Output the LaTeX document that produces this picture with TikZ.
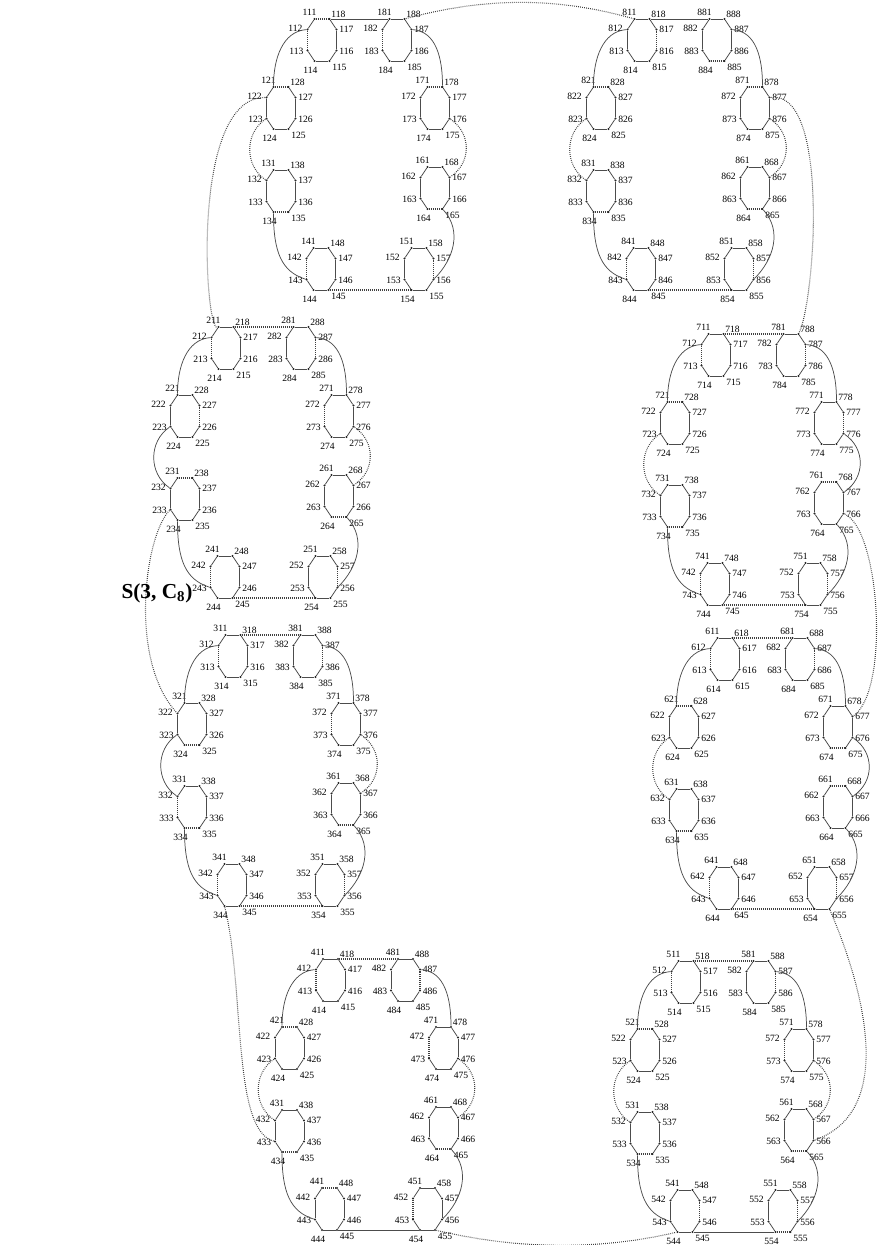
\documentclass[tikz,border=0pt]{standalone}
\usepackage{fontspec}
\setmainfont{Liberation Serif}
\tikzset{
  vtx/.style={circle,fill=black!85,inner sep=0pt,minimum size=1.7pt},
  lab/.style={inner sep=0pt,font=\fontsize{7.2}{7.2}\selectfont,text=black},
  Es/.style={draw=black!70,line width=0.55pt},
  Ed/.style={draw=black!75,line width=0.8pt,dash pattern=on 0.6pt off 0.9pt},
  ttl/.style={inner sep=0pt,font=\bfseries\fontsize{16}{16}\selectfont},
}
% vertices and labels of one cluster: #1 cluster digit, #2 #3 offset (px)
\newcommand\mkcluster[3]{%
  \foreach \o/\tx/\ty in {1/322/40,8/397/40,2/281/108,7/435/108,3/281/191,6/435/188,4/321/269,5/419/269}{%
    \foreach \k/\vx/\vy/\lx/\ly in {1/-7.5/-21/-5/-7,8/7.5/-21/9/-5,2/-14.5/-10.5/-12/-1,7/14.5/-10.5/10/0,3/-14.5/10.5/-11/1,6/14.5/10.5/10/1,4/-7.5/21/-4/9,5/7.5/21/10/6}{%
      \node[vtx] (v#1\o\k) at ({#2+\tx+\vx},{#3+\ty+\vy}) {};
      \node[lab] (l#1\o\k) at ({#2+\tx+\vx+\lx},{#3+\ty+\vy+\ly}) {#1\o\k};
    }}}
% edges of one octagon: #1 cluster, #2 octagon, #3 styles of 1-8,1-2,2-3,...,7-8
\newcommand\octedges[3]{%
  \foreach \s [count=\i] in {#3}{%
    \ifnum\i=1 \def\vA{1}\def\vB{8}\else\pgfmathtruncatemacro\vA{\i-1}\edef\vB{\i}\fi
    \draw[E\s] (v#1#2\vA) -- (v#1#2\vB);
  }}
% edges between octagons of one cluster
\newcommand\clusteredges[9]{%
  \draw[E#2] (v#118) -- (v#181);
  \draw[E#3] (v#112) .. controls +(-25,2) and +(0,-28) .. (v#121);
  \draw[E#4] (v#187) .. controls +(25,2) and +(0,-28) .. (v#178);
  \draw[E#5] (v#123) .. controls +(-22,15) and +(-22,-15) .. (v#132);
  \draw[E#6] (v#176) .. controls +(22,15) and +(22,-15) .. (v#167);
  \draw[E#7] (v#134) .. controls +(0,40) and +(-25,-8) .. (v#143);
  \draw[E#8] (v#165) .. controls +(20,22) and +(20,-20) .. (v#156);
  \draw[E#9] (v#145) -- (v#154);
}
\begin{document}
\begin{tikzpicture}[x=0.75pt,y=-0.75pt]
\fill[white] (0,0) rectangle (888,1245);
\useasboundingbox (0,0) rectangle (888,1245);

\mkcluster{1}{0}{0}
\mkcluster{2}{-96}{308}
\mkcluster{3}{-89}{616}
\mkcluster{4}{8.5}{940}
\mkcluster{5}{364}{942}
\mkcluster{6}{403}{619}
\mkcluster{7}{394}{315}
\mkcluster{8}{320}{0}

% cluster 1
\octedges{1}{1}{d,s,d,s,s,s,s,s}
\octedges{1}{8}{s,s,d,s,s,s,s,s}
\octedges{1}{2}{d,s,s,s,s,s,s,s}
\octedges{1}{7}{d,s,s,s,s,s,s,s}
\octedges{1}{3}{s,s,s,s,d,s,s,s}
\octedges{1}{6}{s,s,s,s,d,s,s,s}
\octedges{1}{4}{s,s,d,s,s,s,s,s}
\octedges{1}{5}{s,s,s,s,s,s,d,s}
\clusteredges{1}{s}{s}{s}{d}{d}{s}{s}{d}
% cluster 2
\octedges{2}{1}{s,s,d,s,s,s,s,s}
\octedges{2}{8}{s,s,s,s,s,s,d,s}
\octedges{2}{2}{s,s,s,s,s,s,d,s}
\octedges{2}{7}{s,s,d,s,s,s,s,s}
\octedges{2}{3}{d,s,s,s,s,s,s,s}
\octedges{2}{6}{s,s,s,s,d,s,s,s}
\octedges{2}{4}{s,s,d,s,s,s,s,s}
\octedges{2}{5}{s,s,s,s,s,s,d,s}
\clusteredges{2}{d}{s}{s}{s}{d}{s}{s}{d}
% cluster 3
\octedges{3}{1}{s,s,d,s,s,s,s,s}
\octedges{3}{8}{s,s,s,s,s,s,d,s}
\octedges{3}{2}{s,s,s,s,d,s,s,s}
\octedges{3}{7}{s,s,d,s,s,s,s,s}
\octedges{3}{3}{s,s,d,s,d,s,s,s}
\octedges{3}{6}{s,s,s,s,d,s,s,s}
\octedges{3}{4}{s,s,d,s,s,s,s,s}
\octedges{3}{5}{s,s,s,s,s,s,d,s}
\clusteredges{3}{d}{s}{s}{s}{d}{s}{s}{d}
% cluster 4
\octedges{4}{1}{s,s,d,s,s,s,s,s}
\octedges{4}{8}{s,s,s,s,s,s,d,s}
\octedges{4}{2}{d,s,s,s,s,s,s,s}
\octedges{4}{7}{s,s,d,s,s,s,s,s}
\octedges{4}{3}{s,s,s,s,d,s,s,s}
\octedges{4}{6}{s,s,s,s,d,s,s,s}
\octedges{4}{4}{d,s,s,s,s,s,s,s}
\octedges{4}{5}{s,s,d,s,s,s,s,s}
\clusteredges{4}{d}{s}{s}{d}{d}{s}{s}{s}
% cluster 5
\octedges{5}{1}{s,s,d,s,s,s,s,s}
\octedges{5}{8}{s,s,s,s,s,s,d,s}
\octedges{5}{2}{d,s,s,s,s,s,s,s}
\octedges{5}{7}{s,s,d,s,s,s,s,s}
\octedges{5}{3}{s,s,s,s,d,s,s,s}
\octedges{5}{6}{s,s,s,s,d,s,s,s}
\octedges{5}{4}{s,s,s,s,s,s,d,s}
\octedges{5}{5}{s,s,s,s,d,s,d,s}
\clusteredges{5}{d}{s}{s}{d}{d}{s}{s}{s}
% cluster 6
\octedges{6}{1}{s,s,d,s,s,s,s,s}
\octedges{6}{8}{s,s,s,s,s,s,d,s}
\octedges{6}{2}{d,s,s,s,s,s,s,s}
\octedges{6}{7}{s,s,s,s,d,s,s,s}
\octedges{6}{3}{s,s,s,s,d,s,s,s}
\octedges{6}{6}{d,s,s,s,s,s,s,s}
\octedges{6}{4}{s,s,d,s,s,s,s,s}
\octedges{6}{5}{s,s,s,s,s,s,d,s}
\clusteredges{6}{d}{s}{s}{d}{s}{s}{s}{d}
% cluster 7
\octedges{7}{1}{s,s,d,s,s,s,s,s}
\octedges{7}{8}{s,s,s,s,s,s,d,s}
\octedges{7}{2}{d,s,s,s,s,s,s,s}
\octedges{7}{7}{s,s,s,s,s,s,d,s}
\octedges{7}{3}{s,s,s,s,d,s,s,s}
\octedges{7}{6}{d,s,s,s,s,s,s,s}
\octedges{7}{4}{s,s,d,s,s,s,s,s}
\octedges{7}{5}{s,s,s,s,s,s,d,s}
\clusteredges{7}{d}{s}{s}{d}{s}{s}{s}{d}
% cluster 8
\octedges{8}{1}{s,s,s,s,s,s,d,s}
\octedges{8}{8}{s,s,s,s,d,s,s,s}
\octedges{8}{2}{d,s,s,s,s,s,s,s}
\octedges{8}{7}{d,s,s,s,s,s,s,s}
\octedges{8}{3}{s,s,s,s,d,s,s,s}
\octedges{8}{6}{s,s,s,s,d,s,s,s}
\octedges{8}{4}{s,s,d,s,s,s,s,s}
\octedges{8}{5}{s,s,s,s,s,s,d,s}
\clusteredges{8}{s}{s}{s}{d}{d}{s}{s}{d}

% edges between clusters
\draw[Ed] (v188) .. controls (490,-4) and (560,-2) .. (v811);
\draw[Ed] (v122) .. controls (190,97) and (205,330) .. (v211);
\draw[Ed] (v233) .. controls (145,535) and (128,660) .. (v322);
\draw[Ed] (v344) .. controls (245,990) and (232,1130) .. (v433);
\draw[Ed] (v455) .. controls (520,1250) and (600,1250) .. (v544);
\draw[Ed] (v655) .. controls (860,980) and (900,1110) .. (v566);
\draw[Ed] (v766) .. controls (880,530) and (890,690) .. (v677);
\draw[Ed] (v877) .. controls (830,90) and (815,300) .. (v788);

\node[ttl] (title) at (157,593) {S(3, C\textsubscript{8})};
\end{tikzpicture}
\end{document}
